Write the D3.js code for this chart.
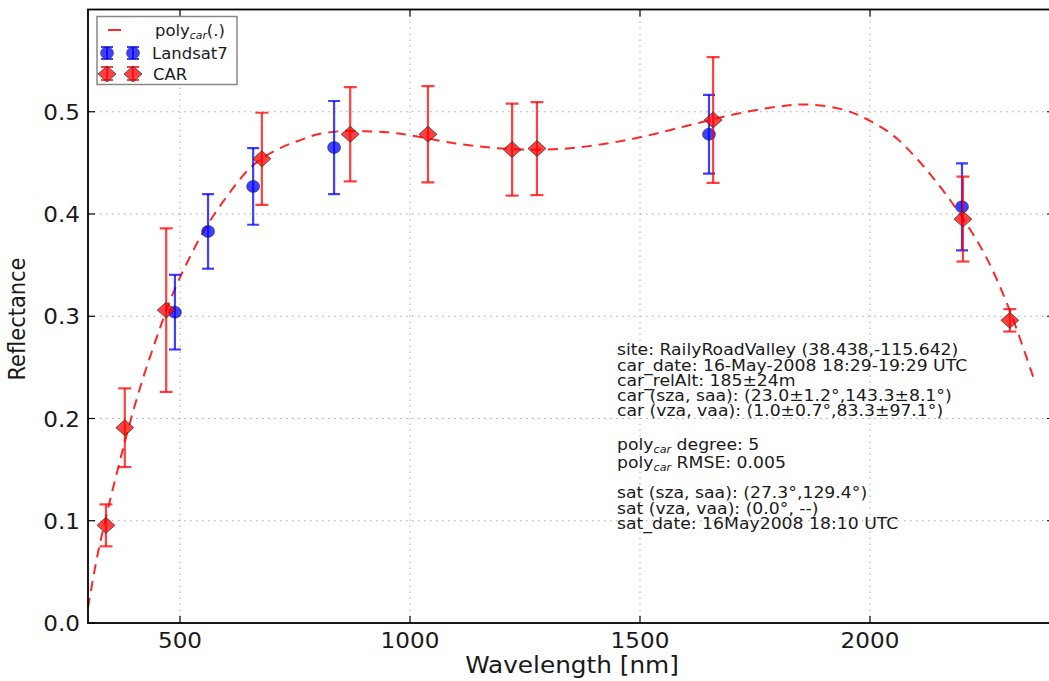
<!DOCTYPE html>
<html>
<head>
<meta charset="utf-8">
<script src="https://cdn.jsdelivr.net/npm/d3@7"></script>
<style>
  body { margin: 0; background: #fff; }
  text { font-family: "DejaVu Sans", sans-serif; fill: #1a1a1a; }
</style>
</head>
<body>
<div id="chart"></div>
<script>
// CAR measurements
const carWl = [339, 380, 470, 678, 870, 1039, 1222, 1276, 1659, 2202, 2304];
const carRefl = [0.0955, 0.191, 0.306, 0.454, 0.478, 0.478, 0.463, 0.464, 0.492, 0.395, 0.296];
const carErr = [0.0205, 0.0385, 0.080, 0.045, 0.046, 0.047, 0.045, 0.0455, 0.0615, 0.0415, 0.011];

// Landsat7 bands
const satWl = [489, 561, 659, 835, 1650, 2200];
const satRefl = [0.304, 0.383, 0.427, 0.465, 0.478, 0.407];
const satErr = [0.0365, 0.0365, 0.0375, 0.0455, 0.0385, 0.0425];

// poly_car curve
const polyWl = [300, 320, 340, 360, 380, 400, 420, 440, 460, 480, 500, 525, 550, 575, 600, 625, 650, 680,
  720, 760, 800, 850, 900, 950, 1000, 1100, 1200, 1300, 1400, 1500, 1600, 1700, 1800, 1870, 1950, 2000,
  2050, 2100, 2150, 2200, 2250, 2300, 2359];
const polyRefl = [0.015, 0.065, 0.105, 0.142, 0.177, 0.21, 0.24, 0.267, 0.293, 0.317, 0.338, 0.361, 0.382,
  0.40, 0.416, 0.431, 0.444, 0.455, 0.465, 0.472, 0.478, 0.481, 0.481, 0.480, 0.477, 0.469, 0.464, 0.463,
  0.467, 0.475, 0.486, 0.497, 0.505, 0.507, 0.501, 0.491, 0.477, 0.455, 0.428, 0.397, 0.36, 0.31, 0.235];

const xTicks = [500, 1000, 1500, 2000];
const yTicks = [0.0, 0.1, 0.2, 0.3, 0.4, 0.5];

const infoLines = [
  "site: RailyRoadValley (38.438,-115.642)",
  "car_date: 16-May-2008 18:29-19:29 UTC",
  "car_relAlt: 185±24m",
  "car (sza, saa): (23.0±1.2°,143.3±8.1°)",
  "car (vza, vaa): (1.0±0.7°,83.3±97.1°)",
  "",
  "poly|car| degree: 5",
  "poly|car| RMSE: 0.005",
  "",
  "sat (sza, saa): (27.3°,129.4°)",
  "sat (vza, vaa): (0.0°, --)",
  "sat_date: 16May2008 18:10 UTC"
];
const infoY = [355, 371, 386, 401, 416, null, 450, 468, null, 498, 514, 529];

const width = 1049;
const height = 681;
const plotL = 88, plotR = 1054, plotT = 9.5, plotB = 623;

const svg = d3.select("#chart")
  .append("svg")
  .attr("width", width)
  .attr("height", height);

svg.append("rect").attr("width", width).attr("height", height).attr("fill", "#fff");

const x = d3.scaleLinear().domain([300, 2400]).range([plotL, plotR]);
const y = d3.scaleLinear().domain([0, 0.6]).range([plotB, plotT]);

// stretched text helper (reference glyphs are a bit wide)
function label(g, str, px, py, size, sx, anchor) {
  return g.append("text")
    .attr("transform", "translate(" + px + "," + py + ") scale(" + sx + ",1)")
    .attr("font-size", size)
    .attr("text-anchor", anchor || "start")
    .text(str);
}

// grid
const grid = svg.append("g");
grid.selectAll(".gx").data(xTicks).enter().append("line")
  .attr("x1", d => x(d)).attr("x2", d => x(d))
  .attr("y1", plotT).attr("y2", plotB)
  .attr("stroke", "#aaa").attr("stroke-width", 1).attr("stroke-dasharray", "1.5,4.5");
grid.selectAll(".gy").data(yTicks.slice(1)).enter().append("line")
  .attr("x1", plotL).attr("x2", plotR)
  .attr("y1", d => y(d)).attr("y2", d => y(d))
  .attr("stroke", "#aaa").attr("stroke-width", 1).attr("stroke-dasharray", "1.5,4.5");

svg.append("clipPath").attr("id", "plotclip")
  .append("rect").attr("x", plotL).attr("y", plotT).attr("width", plotR - plotL).attr("height", plotB - plotT);

const plot = svg.append("g").attr("clip-path", "url(#plotclip)");

// dashed poly curve
const line = d3.line()
  .x((d, i) => x(polyWl[i]))
  .y(d => y(d))
  .curve(d3.curveCatmullRom);

plot.append("path")
  .datum(polyRefl)
  .attr("d", line)
  .attr("fill", "none")
  .attr("stroke", "#ff0000")
  .attr("stroke-opacity", 0.85)
  .attr("stroke-width", 2)
  .attr("stroke-dasharray", "10,7");

function errorBars(wl, val, err, color, cap) {
  const g = plot.append("g").attr("stroke", color).attr("stroke-opacity", 0.75).attr("stroke-width", 2.2);
  wl.forEach((w, i) => {
    const cx = x(w);
    const y1 = y(val[i] + err[i]), y0 = y(val[i] - err[i]);
    g.append("line").attr("x1", cx).attr("x2", cx).attr("y1", y1).attr("y2", y0);
    g.append("line").attr("x1", cx - cap).attr("x2", cx + cap).attr("y1", y1).attr("y2", y1);
    g.append("line").attr("x1", cx - cap).attr("x2", cx + cap).attr("y1", y0).attr("y2", y0);
  });
}

// Landsat7
errorBars(satWl, satRefl, satErr, "#0000ff", 6);
plot.selectAll(".sat").data(satRefl).enter().append("ellipse")
  .attr("cx", (d, i) => x(satWl[i]))
  .attr("cy", d => y(d))
  .attr("rx", 6.5).attr("ry", 6)
  .attr("fill", "#0000ff").attr("fill-opacity", 0.75)
  .attr("stroke", "#222").attr("stroke-opacity", 0.5).attr("stroke-width", 1);

// CAR
errorBars(carWl, carRefl, carErr, "#ff0000", 6.5);
const diamond = "M-9,0L0,-8L9,0L0,8Z";
plot.selectAll(".car").data(carRefl).enter().append("path")
  .attr("d", diamond)
  .attr("transform", (d, i) => "translate(" + x(carWl[i]) + "," + y(d) + ")")
  .attr("fill", "#ff0000").attr("fill-opacity", 0.75)
  .attr("stroke", "#333").attr("stroke-opacity", 0.7).attr("stroke-width", 1);

// frame and ticks
const frame = svg.append("g").attr("stroke", "#000").attr("stroke-width", 1.8);
frame.append("rect").attr("x", plotL).attr("y", plotT).attr("width", plotR - plotL).attr("height", plotB - plotT)
  .attr("fill", "none");
const ticks = svg.append("g").attr("stroke", "#000").attr("stroke-width", 1.2);
xTicks.forEach(t => {
  ticks.append("line").attr("x1", x(t)).attr("x2", x(t)).attr("y1", plotB).attr("y2", plotB - 7);
  ticks.append("line").attr("x1", x(t)).attr("x2", x(t)).attr("y1", plotT).attr("y2", plotT + 7);
});
yTicks.forEach(t => {
  ticks.append("line").attr("x1", plotL).attr("x2", plotL + 7).attr("y1", y(t)).attr("y2", y(t));
  ticks.append("line").attr("x1", plotR).attr("x2", plotR - 7).attr("y1", y(t)).attr("y2", y(t));
});

// tick labels
xTicks.forEach(t => label(svg, String(t), x(t), 648, 21, 1.1, "middle"));
yTicks.forEach(t => label(svg, t.toFixed(1), 80, y(t) + 8, 21, 1.1, "end"));

// axis titles
label(svg, "Wavelength [nm]", 572, 673, 22.5, 1.1, "middle");
svg.append("text")
  .attr("transform", "translate(25,319) rotate(-90) scale(1,1.1)")
  .attr("font-size", 21)
  .attr("text-anchor", "middle")
  .text("Reflectance");

// annotation block
const info = svg.append("g");
infoLines.forEach((s, i) => {
  if (!s) return;
  const parts = s.split("|");
  const t = info.append("text")
    .attr("transform", "translate(617," + infoY[i] + ") scale(1.12,1)")
    .attr("font-size", 15.4);
  t.append("tspan").text(parts[0]);
  if (parts.length > 1) {
    t.append("tspan").attr("font-size", 10).attr("font-style", "italic").attr("dy", 3).text(parts[1]);
    t.append("tspan").attr("dy", -3).text(parts[2]);
  }
});

// legend
const leg = svg.append("g");
leg.append("rect").attr("x", 97).attr("y", 16.5).attr("width", 140).attr("height", 68)
  .attr("fill", "#fff").attr("stroke", "#888").attr("stroke-width", 1.5);
leg.append("line").attr("x1", 108).attr("x2", 121).attr("y1", 30).attr("y2", 30)
  .attr("stroke", "#ff0000").attr("stroke-opacity", 0.85).attr("stroke-width", 2);
[107, 133].forEach(cx => {
  const gb = leg.append("g").attr("stroke", "#0000ff").attr("stroke-opacity", 0.75).attr("stroke-width", 2);
  gb.append("line").attr("x1", cx).attr("x2", cx).attr("y1", 47).attr("y2", 59);
  gb.append("line").attr("x1", cx - 6).attr("x2", cx + 6).attr("y1", 47).attr("y2", 47);
  gb.append("line").attr("x1", cx - 6).attr("x2", cx + 6).attr("y1", 59).attr("y2", 59);
  leg.append("ellipse").attr("cx", cx).attr("cy", 53).attr("rx", 6.5).attr("ry", 6)
    .attr("fill", "#0000ff").attr("fill-opacity", 0.75).attr("stroke", "#222").attr("stroke-opacity", 0.5);
  const gr = leg.append("g").attr("stroke", "#ff0000").attr("stroke-opacity", 0.75).attr("stroke-width", 2);
  gr.append("line").attr("x1", cx).attr("x2", cx).attr("y1", 67).attr("y2", 80);
  gr.append("line").attr("x1", cx - 6).attr("x2", cx + 6).attr("y1", 67).attr("y2", 67);
  gr.append("line").attr("x1", cx - 6).attr("x2", cx + 6).attr("y1", 80).attr("y2", 80);
  leg.append("path").attr("d", diamond).attr("transform", "translate(" + cx + ",74)")
    .attr("fill", "#ff0000").attr("fill-opacity", 0.75).attr("stroke", "#333").attr("stroke-opacity", 0.7);
});
const lt = leg.append("text").attr("transform", "translate(155,36) scale(1.03,1)").attr("font-size", 16);
lt.append("tspan").text("poly");
lt.append("tspan").attr("font-size", 10.5).attr("font-style", "italic").attr("dy", 3).text("car");
lt.append("tspan").attr("dy", -3).text("(.)");
label(leg, "Landsat7", 152, 59, 16, 1.03);
label(leg, "CAR", 153, 80, 16, 1.03);
</script>
</body>
</html>
